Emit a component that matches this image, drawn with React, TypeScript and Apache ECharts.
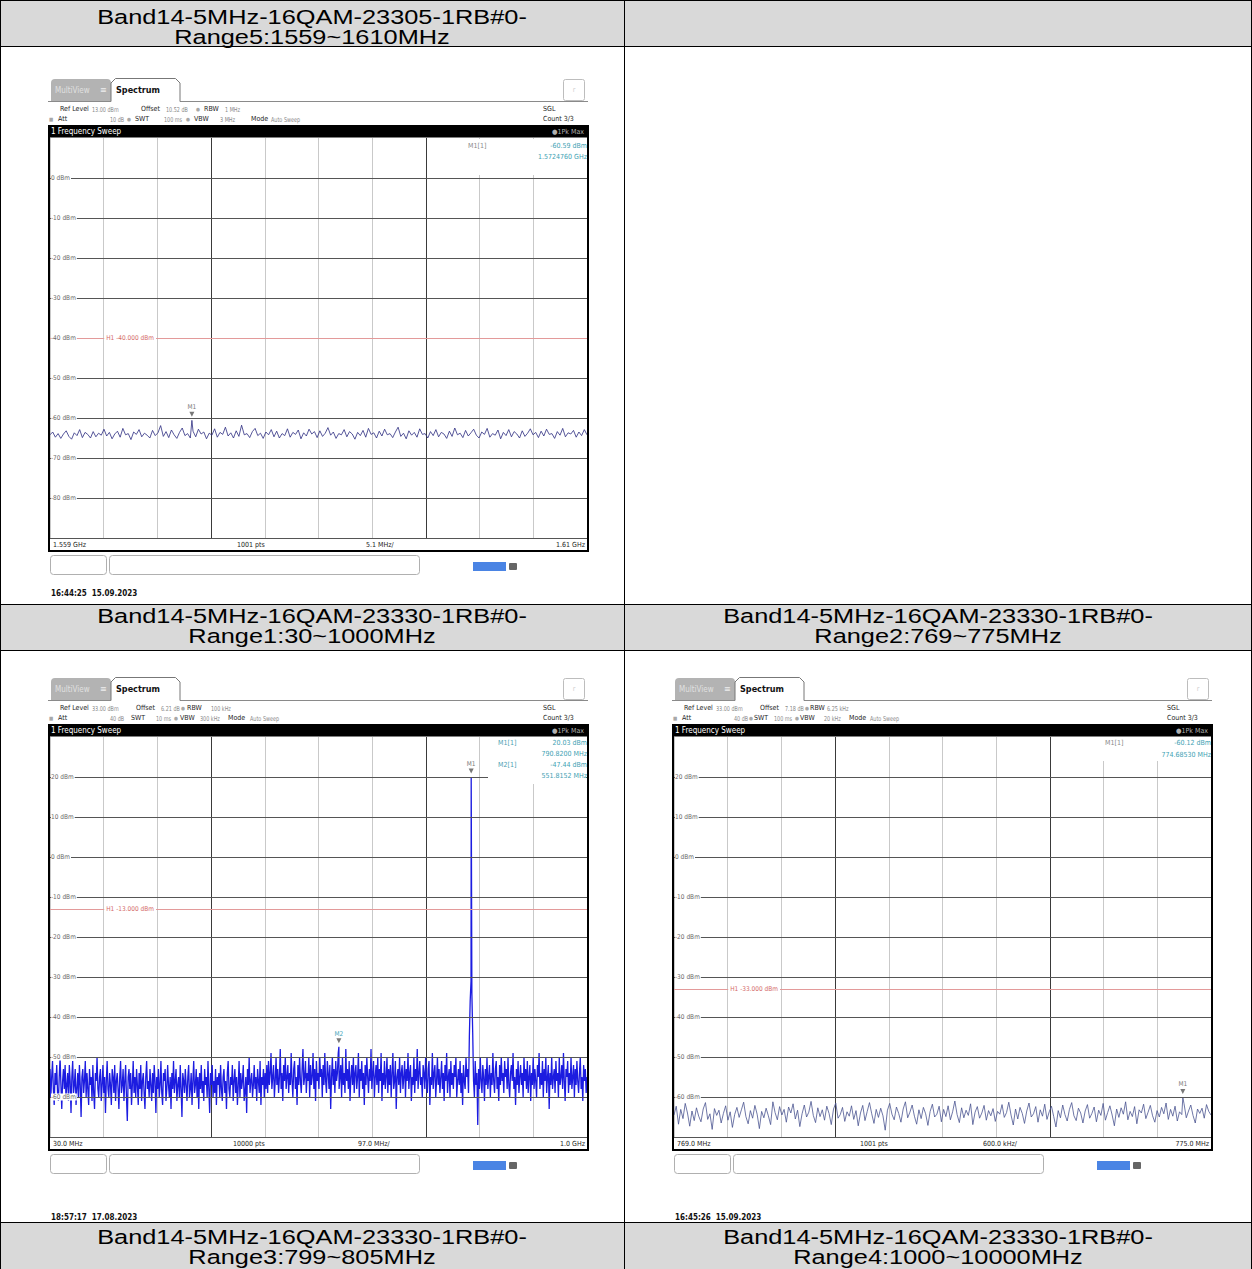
import React, { useEffect, useRef } from "react";
import * as echarts from "echarts";

// ---------------- table header texts ----------------
const headerLine1 = [
  "Band14-5MHz-16QAM-23305-1RB#0-", "",
  "Band14-5MHz-16QAM-23330-1RB#0-", "Band14-5MHz-16QAM-23330-1RB#0-",
  "Band14-5MHz-16QAM-23330-1RB#0-", "Band14-5MHz-16QAM-23330-1RB#0-",
];
const headerLine2 = [
  "Range5:1559~1610MHz", "",
  "Range1:30~1000MHz", "Range2:769~775MHz",
  "Range3:799~805MHz", "Range4:1000~10000MHz",
];

// ---------------- panel 1 : 1559 ~ 1610 MHz ----------------
const p1Span = [1559, 1610];
const p1YRange = [-90, 10];
const p1YLabels = [0, -10, -20, -30, -40, -50, -60, -70, -80];
const p1XLabels = ["1.559 GHz", "1001 pts", "5.1 MHz/", "1.61 GHz"];
const p1Limit = -40;
const p1Markers = [{ name: "M1", freq: 1572.476, level: -60.59 }];
const p1Trace = [
  -64.2, -63.5, -64.8, -63.9, -65.1, -64.0, -63.2, -64.6, -65.3, -63.7, -64.4, -62.9, -64.9, -63.6, -64.1, -65.0, -63.4, -64.7, -63.8, -64.3,
  -62.8, -64.5, -63.6, -65.2, -64.0, -63.3, -64.8, -62.6, -64.2, -63.9, -65.4, -63.5, -64.1, -62.9, -64.7, -63.8, -64.3, -65.0, -63.1, -64.4,
  -63.7, -61.9, -64.6, -63.4, -64.9, -63.0, -64.2, -65.1, -63.6, -62.5, -64.4, -63.9, -65.0, -63.3, -64.7, -62.8, -64.0, -63.5, -65.2, -63.8,
  -64.3, -62.7, -64.8, -63.6, -64.1, -62.3, -64.5, -63.7, -65.0, -63.2, -64.6, -61.8, -64.2, -63.9, -64.9, -63.4, -62.6, -64.4, -63.8, -65.1,
  -63.5, -64.2, -62.9, -64.7, -63.3, -65.0, -63.9, -64.4, -62.7, -64.8, -63.6, -64.1, -63.0, -65.2, -63.7, -64.5, -62.8, -64.0, -63.4, -64.9,
  -63.2, -64.6, -63.8, -62.4, -64.3, -63.5, -65.1, -63.9, -64.2, -62.9, -64.7, -63.4, -64.0, -65.3, -63.6, -64.4, -63.1, -64.8, -62.6, -64.1,
  -63.7, -65.0, -63.3, -64.5, -62.8, -64.2, -63.9, -64.9, -63.5, -62.3, -64.6, -63.8, -65.2, -63.2, -64.3, -63.6, -64.8, -62.7, -64.1, -63.9,
  -65.0, -63.4, -64.4, -62.9, -64.7, -63.6, -64.0, -65.1, -63.3, -64.6, -62.5, -64.2, -63.8, -64.9, -63.1, -64.5, -63.7, -62.8, -64.3, -65.0,
  -63.5, -64.1, -62.6, -64.8, -63.9, -64.3, -63.0, -65.2, -63.6, -64.4, -62.9, -64.7, -63.4, -64.0, -65.0, -63.2, -64.6, -63.8, -62.7, -64.2,
  -63.6, -64.9, -63.3, -64.5, -62.8, -64.1, -63.9, -65.1, -63.4, -64.3, -62.6, -64.7, -63.7, -64.0, -63.1, -64.8, -63.5, -64.4, -62.9, -64.2,
];
const p1Settings = [
  ["Ref Level", 60, 0, "k"], ["13.00 dBm", 92, 0, "v"], ["Offset", 141, 0, "k"], ["10.52 dB", 166, 0, "v"],
  ["●", 196, 0, "b"], ["RBW", 204, 0, "k"], ["1 MHz", 225, 0, "v"],
  ["■", 49, 1, "b"], ["Att", 58, 1, "k"], ["10 dB", 110, 1, "v"], ["●", 127, 1, "b"], ["SWT", 135, 1, "k"],
  ["100 ms", 164, 1, "v"], ["●", 186, 1, "b"], ["VBW", 194, 1, "k"], ["3 MHz", 220, 1, "v"],
  ["Mode", 251, 1, "k"], ["Auto Sweep", 271, 1, "v"],
];
const p1Time = "16:44:25  15.09.2023";

// ---------------- panel 2 : 30 ~ 1000 MHz ----------------
const p2Span = [30, 1000];
const p2YRange = [-70, 30];
const p2YLabels = [20, 10, 0, -10, -20, -30, -40, -50, -60];
const p2XLabels = ["30.0 MHz", "10000 pts", "97.0 MHz/", "1.0 GHz"];
const p2Limit = -13;
const p2Markers = [
  { name: "M1", freq: 790.82, level: 20.03 },
  { name: "M2", freq: 551.8152, level: -47.44 },
];
const p2Trace = [
  -53, -60, -55, -51, -58, -62, -54, -57, -52, -59, -61, -55, -50, -57, -63, -56, -53, -58, -52, -60,
  -57, -54, -61, -52, -56, -64, -55, -51, -59, -57, -53, -62, -58, -54, -60, -52, -57, -65, -55, -53,
  -59, -56, -51, -60, -54, -58, -62, -53, -57, -55, -61, -52, -59, -63, -54, -56, -50, -58, -60, -55,
  -53, -61, -57, -52, -59, -55, -64, -56, -51, -58, -60, -54, -57, -62, -53, -55, -59, -52, -61, -56,
  -54, -58, -63, -55, -51, -59, -57, -53, -61, -56, -52, -60, -66, -55, -53, -58, -54, -62, -57, -51,
  -59, -55, -60, -53, -57, -62, -54, -58, -52, -61, -56, -54, -59, -63, -55, -51, -58, -56, -60, -53,
  -57, -61, -54, -59, -52, -56, -64, -55, -58, -53, -60, -57, -51, -59, -62, -54, -56, -53, -61, -58,
  -52, -57, -60, -55, -63, -54, -58, -51, -59, -56, -53, -61, -57, -55, -60, -52, -58, -65, -54, -56,
  -59, -53, -57, -61, -55, -52, -60, -58, -54, -62, -56, -51, -59, -57, -53, -60, -55, -63, -54, -58,
  -52, -59, -56, -61, -53, -57, -55, -60, -51, -58, -64, -54, -57, -52, -60, -56, -59, -53, -62, -55,
  -57, -54, -60, -52, -58, -61, -55, -53, -59, -56, -63, -54, -51, -58, -60, -55, -57, -52, -61, -56,
  -53, -59, -55, -62, -57, -51, -60, -54, -58, -56, -52, -61, -59, -55, -64, -53, -57, -50, -59, -56,
  -54, -60, -57, -52, -58, -55, -61, -53, -56, -59, -51, -62, -55, -57, -53, -60, -54, -58, -52, -59,
  -51, -57, -54, -49, -58, -55, -52, -60, -56, -50, -57, -53, -59, -55, -48, -58, -54, -61, -52, -56,
  -50, -58, -55, -52, -59, -54, -57, -49, -56, -60, -53, -51, -58, -55, -62, -52, -57, -50, -56, -59,
  -53, -48, -57, -55, -51, -59, -54, -56, -50, -60, -52, -57, -55, -49, -58, -53, -61, -51, -56, -54,
  -58, -50, -55, -53, -60, -52, -57, -49, -56, -59, -51, -54, -58, -52, -63, -55, -50, -57, -53, -59,
  -51, -56, -54, -49, -58, -55, -52, -60, -50, -57, -54, -59, -48, -56, -53, -58, -51, -61, -55, -52,
  -57, -50, -59, -54, -52, -58, -55, -49, -60, -53, -56, -51, -58, -54, -62, -52, -57, -50, -55, -59,
  -53, -56, -48, -58, -54, -51, -60, -55, -52, -57, -50, -59, -53, -56, -49, -61, -54, -57, -51, -58,
  -55, -50, -59, -53, -57, -52, -60, -54, -49, -58, -56, -51, -63, -55, -53, -57, -50, -59, -54, -52,
  -58, -55, -51, -60, -53, -56, -49, -58, -54, -52, -61, -55, -57, -50, -59, -53, -56, -48, -58, -54,
  -51, -57, -55, -60, -52, -54, -58, -50, -56, -59, -53, -51, -62, -55, -57, -49, -58, -54, -52, -60,
  -56, -50, -57, -53, -59, -55, -51, -58, -54, -61, -52, -56, -49, -59, -55, -53, -60, -51, -57, -54,
  -58, -52, -55, -50, -60, -56, -53, -57, -51, -59, -54, -62, -52, -56, -58, -50, -55, -53, -59, -45,
  -36, -31, -34, -44, -56, -60, -51, -57, -54, -67, -53, -58, -50, -56, -59, -52, -55, -61, -53, -57,
  -50, -58, -55, -52, -60, -54, -57, -49, -56, -59, -53, -51, -58, -55, -61, -52, -57, -50, -56, -54,
  -59, -51, -55, -53, -58, -50, -57, -60, -54, -52, -56, -49, -58, -55, -62, -53, -57, -51, -59, -55,
  -52, -57, -54, -60, -50, -56, -53, -58, -51, -59, -55, -52, -61, -54, -57, -50, -58, -53, -56, -60,
  -52, -55, -49, -58, -54, -57, -51, -60, -53, -56, -50, -59, -55, -52, -63, -54, -57, -50, -58, -55,
  -53, -59, -51, -56, -54, -60, -50, -57, -55, -52, -58, -49, -56, -61, -53, -55, -51, -59, -54, -57,
  -50, -58, -55, -52, -60, -53, -57, -51, -56, -59, -54, -50, -58, -55, -61, -52, -56, -53, -59, -55,
];
const p2Settings = [
  ["Ref Level", 60, 0, "k"], ["33.00 dBm", 92, 0, "v"], ["Offset", 136, 0, "k"], ["6.21 dB", 161, 0, "v"],
  ["●", 181, 0, "b"], ["RBW", 187, 0, "k"], ["100 kHz", 211, 0, "v"],
  ["■", 49, 1, "b"], ["Att", 58, 1, "k"], ["40 dB", 110, 1, "v"], ["SWT", 131, 1, "k"], ["10 ms", 156, 1, "v"],
  ["●", 174, 1, "b"], ["VBW", 180, 1, "k"], ["300 kHz", 200, 1, "v"], ["Mode", 228, 1, "k"], ["Auto Sweep", 250, 1, "v"],
];
const p2Time = "18:57:17  17.08.2023";

// ---------------- panel 3 : 769 ~ 775 MHz ----------------
const p3Span = [769, 775];
const p3YRange = [-70, 30];
const p3YLabels = [20, 10, 0, -10, -20, -30, -40, -50, -60];
const p3XLabels = ["769.0 MHz", "1001 pts", "600.0 kHz/", "775.0 MHz"];
const p3Limit = -33;
const p3Markers = [{ name: "M1", freq: 774.6853, level: -60.12 }];
const p3Trace = [
  -64.5, -62.3, -66.8, -63.1, -65.4, -61.6, -64.0, -67.3, -63.5, -65.9, -62.7, -64.8, -66.2, -63.0, -61.4, -65.6, -64.2, -68.1, -62.9, -64.6,
  -63.3, -66.5, -64.1, -62.2, -65.8, -63.7, -67.6, -64.4, -62.6, -65.1, -63.2, -61.3, -64.9, -66.7, -63.4, -65.3, -62.1, -64.3, -67.9, -63.6,
  -65.2, -62.8, -64.7, -66.9, -61.2, -63.9, -65.7, -62.4, -64.5, -63.1, -66.3, -62.5, -64.0, -61.7, -65.5, -63.3, -67.4, -64.2, -62.0, -65.0,
  -63.8, -61.1, -64.6, -66.4, -62.7, -64.9, -63.2, -65.8, -62.3, -64.1, -66.9, -63.0, -61.5, -65.3, -64.4, -62.6, -66.1, -63.7, -64.8, -62.2,
  -65.6, -63.4, -67.2, -64.0, -62.1, -65.9, -63.6, -61.4, -64.2, -66.6, -63.1, -65.1, -62.8, -64.7, -68.3, -63.3, -61.6, -64.3, -65.7, -62.5,
  -64.1, -66.3, -63.0, -61.2, -65.2, -63.8, -62.0, -64.8, -66.8, -63.2, -65.4, -62.6, -64.2, -67.1, -63.6, -61.8, -65.0, -64.3, -62.3, -66.2,
  -63.1, -64.9, -62.2, -65.7, -63.7, -61.0, -64.4, -66.4, -62.7, -65.2, -63.3, -64.6, -61.7, -66.9, -63.8, -62.4, -65.3, -64.0, -62.1, -65.8,
  -63.4, -64.7, -62.9, -66.1, -63.6, -64.3, -61.9, -65.1, -63.9, -61.3, -64.5, -67.0, -63.0, -65.5, -62.6, -64.1, -66.6, -63.5, -61.5, -65.0,
  -64.2, -62.4, -66.3, -63.2, -64.8, -61.8, -65.6, -63.7, -62.3, -64.9, -67.5, -63.4, -65.2, -62.0, -64.4, -66.0, -63.1, -61.4, -64.7, -65.9,
  -62.8, -64.0, -66.5, -63.5, -61.9, -65.3, -64.1, -62.5, -66.2, -63.3, -64.6, -61.6, -65.8, -63.9, -62.2, -64.5, -67.2, -63.0, -65.1, -62.7,
  -64.3, -61.2, -65.7, -63.6, -64.9, -62.4, -66.7, -63.2, -64.0, -61.8, -65.4, -63.8, -62.1, -64.7, -66.3, -63.4, -65.0, -62.6, -64.2, -61.5,
  -65.6, -63.1, -64.8, -62.3, -66.0, -63.7, -64.4, -61.7, -65.2, -63.5, -62.0, -64.6, -66.5, -63.0, -64.1, -62.8, -65.3, -61.9, -63.6, -64.5,
];
const p3Settings = [
  ["Ref Level", 60, 0, "k"], ["33.00 dBm", 92, 0, "v"], ["Offset", 136, 0, "k"], ["7.18 dB", 161, 0, "v"],
  ["●", 181, 0, "b"], ["RBW", 186, 0, "k"], ["6.25 kHz", 203, 0, "v"],
  ["■", 49, 1, "b"], ["Att", 58, 1, "k"], ["40 dB", 110, 1, "v"], ["●", 125, 1, "b"], ["SWT", 130, 1, "k"],
  ["100 ms", 150, 1, "v"], ["●", 171, 1, "b"], ["VBW", 176, 1, "k"], ["20 kHz", 200, 1, "v"],
  ["Mode", 225, 1, "k"], ["Auto Sweep", 246, 1, "v"],
];
const p3Time = "16:45:26  15.09.2023";

// ---------------- layout / style ----------------
const FONT_N = "'DejaVu Sans Condensed','Liberation Sans Narrow',Roboto,sans-serif";
const FONT_H = "'Liberation Sans',Arial,sans-serif";

const panels = [
  {
    dx: 0, dy: 0, tsY: 593, span: p1Span, yRange: p1YRange, yLabels: p1YLabels, xLabels: p1XLabels, xLabelPos: [53, 237, 366],
    limit: p1Limit, markers: p1Markers, trace: p1Trace, settings: p1Settings, time: p1Time,
    color: "#2c2c80", width: 0.8, infoX: 468, infoRows: [146, 157], infoBox: [438, 139, 148, 36],
    freqFmt: (f: number) => (f / 1000).toFixed(7) + " GHz", infoLabelColor: "#8a8a8a",
    markerColors: ["#7a7a7a"],
  },
  {
    dx: 0, dy: 599, tsY: 1217, span: p2Span, yRange: p2YRange, yLabels: p2YLabels, xLabels: p2XLabels, xLabelPos: [53, 233, 358],
    limit: p2Limit, markers: p2Markers, trace: p2Trace, settings: p2Settings, time: p2Time,
    color: "#1c1ce0", width: 1.3, infoX: 498, infoRows: [144, 155, 166, 177], infoBox: [488, 138, 98, 47],
    freqFmt: (f: number) => f.toFixed(4) + " MHz", infoLabelColor: "#4aa0b2",
    markerColors: ["#7a7a7a", "#3fa6bb"],
  },
  {
    dx: 624, dy: 599, tsY: 1217, span: p3Span, yRange: p3YRange, yLabels: p3YLabels, xLabels: p3XLabels, xLabelPos: [53, 236, 359],
    limit: p3Limit, markers: p3Markers, trace: p3Trace, settings: p3Settings, time: p3Time,
    color: "#4a5490", width: 0.8, infoX: 481, infoRows: [144, 156], infoBox: [474, 138, 112, 24],
    freqFmt: (f: number) => f.toFixed(5) + " MHz", infoLabelColor: "#8a8a8a",
    markerColors: ["#7a7a7a"],
  },
];

const V_LIGHT = "#c9c9c9";
const V_DARK = "#3a3a3a";
const vColors = [V_LIGHT, V_LIGHT, V_LIGHT, V_DARK, V_LIGHT, V_LIGHT, V_LIGHT, V_DARK, V_LIGHT, V_LIGHT, V_LIGHT];

function txt(text: string, x: number, y: number, o: any = {}) {
  return {
    type: "text", x, y, z: o.z ?? 20, silent: true, scaleX: o.scaleX ?? 1,
    style: {
      text, fill: o.fill ?? "#222", fontSize: o.size ?? 7.2, fontFamily: o.family ?? FONT_N,
      fontWeight: o.weight ?? "normal",
      align: o.align ?? "left", verticalAlign: "middle",
      textAlign: o.align ?? "left", textVerticalAlign: "middle",
    },
  };
}
function rect(x: number, y: number, w: number, h: number, o: any = {}) {
  return {
    type: "rect", z: o.z ?? 10, silent: true,
    shape: { x, y, width: w, height: h, r: o.r ?? 0 },
    style: { fill: o.fill ?? "none", stroke: o.stroke ?? "none", lineWidth: o.lineWidth ?? 1 },
  };
}
function ln(x1: number, y1: number, x2: number, y2: number, o: any = {}) {
  return {
    type: "line", z: o.z ?? 10, silent: true,
    shape: { x1, y1, x2, y2 },
    style: { stroke: o.stroke ?? "#000", lineWidth: o.lineWidth ?? 1 },
  };
}

function tableGraphics() {
  const els: any[] = [];
  const rows = [[0, 46, 18, 38], [604, 650, 617, 637], [1222, 1269, 1238, 1258]];
  rows.forEach(([y0, y1]) => {
    els.push(rect(0, y0, 1252, y1 - y0, { fill: "#d9d9d9", z: 0 }));
  });
  rows.forEach(([, , t1, t2], r) => {
    [0, 1].forEach((c) => {
      const i = r * 2 + c;
      const cx = c === 0 ? 312 : 938;
      const o = { size: 19.5, family: FONT_H, fill: "#000", align: "center", z: 5, scaleX: 1.3 };
      if (headerLine1[i]) els.push(txt(headerLine1[i], cx, t1, o));
      if (headerLine2[i]) els.push(txt(headerLine2[i], cx, t2, o));
    });
  });
  [46.5, 604.5, 650.5, 1222.5].forEach((y) => els.push(ln(0, y, 1252, y, { z: 6 })));
  els.push(ln(624.5, 0, 624.5, 1269, { z: 6 }));
  els.push(ln(0.5, 0, 0.5, 1269, { z: 6 }));
  els.push(ln(1251.5, 0, 1251.5, 1269, { z: 6 }));
  els.push(ln(0, 0.5, 1252, 0.5, { z: 6 }));
  return els;
}

function panelGraphics(p: any) {
  const X = (x: number) => x + p.dx;
  const Y = (y: number) => y + p.dy;
  const els: any[] = [];
  // tabs
  els.push(rect(X(51), Y(79), 60, 23, { fill: "#b3b3b3", r: [4, 4, 0, 0] }));
  els.push(txt("MultiView", X(55), Y(90), { fill: "#e0e0e0", size: 8 }));
  els.push(txt("≡", X(100), Y(90), { fill: "#eeeeee", size: 9 }));
  els.push({
    type: "polyline", z: 11, silent: true,
    shape: { points: [[X(111), Y(101.5)], [X(111), Y(83)], [X(115.5), Y(78.5)], [X(175.5), Y(78.5)], [X(180), Y(83)], [X(180), Y(101.5)]] },
    style: { stroke: "#777", fill: "#fff", lineWidth: 1 },
  });
  els.push(ln(X(48), Y(101.5), X(111), Y(101.5), { stroke: "#8a8a8a" }));
  els.push(ln(X(180), Y(101.5), X(588), Y(101.5), { stroke: "#8a8a8a" }));
  els.push(txt("Spectrum", X(116), Y(90), { weight: "bold", size: 9, fill: "#111" }));
  els.push(rect(X(563.5), Y(79.5), 21, 21, { stroke: "#bdbdbd", fill: "#fff", r: 2 }));
  els.push(txt("r", X(574), Y(90), { fill: "#cfcfcf", size: 7, align: "center" }));
  // settings
  p.settings.forEach(([t, x, row, kind]: any) => {
    const y = Y(row === 0 ? 109 : 119);
    if (kind === "k") els.push(txt(t, X(x), y, { fill: "#1e1e1e", size: 7 }));
    else if (kind === "v") els.push(txt(t, X(x), y, { fill: "#8a8a8a", size: 6.8, scaleX: 0.8 }));
    else els.push(txt(t, X(x), y, { fill: "#a8a8a8", size: 5 }));
  });
  els.push(txt("SGL", X(543), Y(109), { fill: "#1e1e1e", size: 7 }));
  els.push(txt("Count 3/3", X(543), Y(119), { fill: "#1e1e1e", size: 7 }));
  // black bar
  els.push(rect(X(49), Y(126), 539, 11.5, { fill: "#000", z: 12 }));
  els.push(txt("1 Frequency Sweep", X(51), Y(131.8), { fill: "#fff", size: 8, z: 13 }));
  els.push(txt("●1Pk Max", X(584), Y(131.8), { fill: "#b0b0b0", size: 7, align: "right", z: 13 }));
  // marker info box
  const [bx, by, bw, bh] = p.infoBox;
  els.push(rect(X(bx), Y(by), bw, bh, { fill: "#fff", z: 7 }));
  p.markers.forEach((m: any, k: number) => {
    const yA = Y(p.infoRows[k * 2]);
    const yB = Y(p.infoRows[k * 2 + 1]);
    els.push(txt(`${m.name}[1]`, X(p.infoX), yA, { fill: p.infoLabelColor, size: 7 }));
    els.push(txt(`${m.level.toFixed(2)} dBm`, X(587), yA, { fill: "#3e9fb3", align: "right", size: 7 }));
    els.push(txt(p.freqFmt(m.freq), X(587), yB, { fill: "#3e9fb3", align: "right", size: 7 }));
  });
  // frame
  els.push(rect(X(49), Y(126), 539, 425, { stroke: "#000", lineWidth: 2, z: 12 }));
  // x labels row
  els.push(txt(p.xLabels[0], X(p.xLabelPos[0]), Y(545), { fill: "#222", size: 7 }));
  els.push(txt(p.xLabels[1], X(p.xLabelPos[1]), Y(545), { fill: "#222", size: 7 }));
  els.push(txt(p.xLabels[2], X(p.xLabelPos[2]), Y(545), { fill: "#222", size: 7 }));
  els.push(txt(p.xLabels[3], X(585), Y(545), { fill: "#222", align: "right", size: 7 }));
  // bottom boxes
  els.push(rect(X(50.5), Y(555.5), 56, 19, { stroke: "#b0b0b0", r: 3 }));
  els.push(rect(X(109.5), Y(555.5), 310, 19, { stroke: "#b0b0b0", r: 3 }));
  els.push(rect(X(473), Y(562), 33, 9, { fill: "#4a84e4" }));
  els.push(rect(X(509), Y(563), 8, 7, { fill: "#666", r: 1 }));
  // timestamp
  els.push(txt(p.time, X(51), p.tsY, { fill: "#111", weight: "bold", size: 8 }));
  return els;
}

function buildOption() {
  const grids: any[] = [];
  const xAxes: any[] = [];
  const yAxes: any[] = [];
  const series: any[] = [];
  panels.forEach((p, i) => {
    const [f0, f1] = p.span;
    const toDiv = (f: number) => ((f - f0) / (f1 - f0)) * 10;
    grids.push({ left: 50 + p.dx, top: 138 + p.dy, width: 537, height: 400, containLabel: false });
    xAxes.push({
      type: "value", gridIndex: i, min: 0, max: 10, interval: 1,
      axisLine: { show: false }, axisTick: { show: false }, axisLabel: { show: false },
      splitLine: { show: true, lineStyle: { color: vColors, width: 1 } },
    });
    yAxes.push({
      type: "value", gridIndex: i, min: p.yRange[0], max: p.yRange[1], interval: 10,
      axisLine: { show: false }, axisTick: { show: false },
      splitLine: { show: true, showMaxLine: false, lineStyle: { color: "#555", width: 1 } },
      axisLabel: {
        show: true, inside: true, margin: 1, fontSize: 6.5, fontFamily: FONT_N, color: "#6a6a6a",
        backgroundColor: "#fff", padding: [0, 1, 0, 0],
        formatter: (v: number) => (p.yLabels.includes(v) ? `${v} dBm` : ""),
      },
      z: 5,
    });
    const n = p.trace.length;
    const pts: number[][] = p.trace.map((v: number, k: number) => [(k / (n - 1)) * 10, v]);
    p.markers.forEach((m: any) => pts.push([toDiv(m.freq), m.level]));
    pts.sort((a, b) => a[0] - b[0]);
    const mp: any[] = p.markers.map((m: any, k: number) => ({
      coord: [toDiv(m.freq), m.level],
      symbol: "triangle", symbolRotate: 180, symbolSize: [5, 5], symbolOffset: [0, -6],
      itemStyle: { color: "#777" },
      label: { show: true, formatter: m.name, position: "top", distance: 1, fontSize: 6.5, fontFamily: FONT_N, color: p.markerColors[k] },
    }));
    mp.push({
      coord: [1, p.limit],
      symbol: "rect", symbolSize: 1, itemStyle: { color: "rgba(0,0,0,0)" },
      label: {
        show: true, formatter: `H1 ${p.limit.toFixed(3)} dBm`, position: "right", distance: 0,
        fontSize: 6.5, fontFamily: FONT_N, color: "#d46a6a", backgroundColor: "#fff", padding: [0, 2],
      },
    });
    series.push({
      type: "line", xAxisIndex: i, yAxisIndex: i, data: pts, showSymbol: false, symbol: "none",
      clip: true, z: 3,
      lineStyle: { color: p.color, width: p.width },
      markLine: {
        silent: true, symbol: ["none", "none"], label: { show: false },
        lineStyle: { color: "#e39a9a", width: 1, type: "solid" },
        data: [{ yAxis: p.limit }],
      },
      markPoint: { silent: true, data: mp },
    });
  });
  const graphics: any[] = [...tableGraphics()];
  panels.forEach((p) => graphics.push(...panelGraphics(p)));
  return {
    animation: false,
    backgroundColor: "#fff",
    grid: grids,
    xAxis: xAxes,
    yAxis: yAxes,
    series,
    graphic: { elements: graphics },
  };
}

export default function App() {
  const ref = useRef<HTMLDivElement>(null);
  useEffect(() => {
    if (!ref.current) return;
    const chart = echarts.init(ref.current, undefined, { renderer: "svg" });
    chart.setOption(buildOption() as any);
    return () => chart.dispose();
  }, []);
  return <div ref={ref} style={{ position: "absolute", left: 0, top: 0, width: 1252, height: 1269 }} />;
}
